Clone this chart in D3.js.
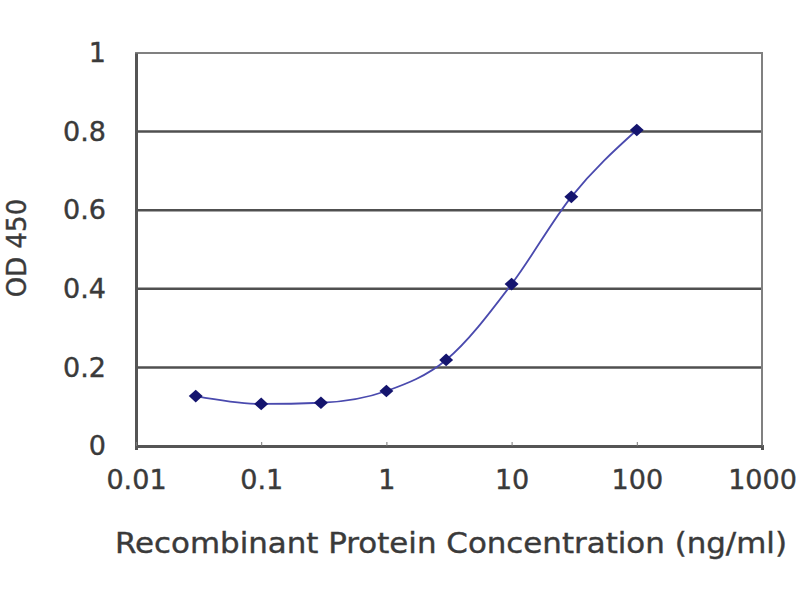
<!DOCTYPE html>
<html>
<head>
<meta charset="utf-8">
<script src="https://cdn.jsdelivr.net/npm/d3@7"></script>
<style>
  body { margin: 0; background: #fff; }
  text { font-family: "DejaVu Sans", "Liberation Sans", Arial, sans-serif; fill: #3a3a3a; stroke: #3a3a3a; stroke-width: 0.4px; }
</style>
</head>
<body>
<svg id="chart" width="800" height="600"></svg>
<script>
// concentrations (ng/ml) and OD 450 readings
var conc = [0.03, 0.1, 0.3, 1, 3, 10, 30, 100];
var od = [0.127, 0.107, 0.11, 0.14, 0.219, 0.412, 0.634, 0.804];
var xTicks = [0.01, 0.1, 1, 10, 100, 1000];
var yTicks = [0, 0.2, 0.4, 0.6, 0.8, 1];

var svg = d3.select("#chart");

var x = d3.scaleLog().domain([0.01, 1000]).range([136, 762]);
var y = d3.scaleLinear().domain([0, 1]).range([446, 53]);

// horizontal grid lines
svg.selectAll('line.grid')
	.data(yTicks.slice(1, 5))
	.enter()
	.append('line')
	.attr('class', 'grid')
	.attr('x1', x(0.01))
	.attr('x2', x(1000))
	.attr('y1', function(d) { return y(d); })
	.attr('y2', function(d) { return y(d); })
	.attr('stroke', '#505050')
	.attr('stroke-width', 2.5);

// plot frame
svg.append('rect')
	.attr('x', x(0.01))
	.attr('y', y(1))
	.attr('width', x(1000) - x(0.01))
	.attr('height', y(0) - y(1))
	.attr('fill', 'none')
	.attr('stroke', '#808080')
	.attr('stroke-width', 2);

// axes
var yAxis = d3.axisLeft(y).tickValues(yTicks).tickSize(0).tickPadding(30)
	.tickFormat(function(d) { return d; });
svg.append('g')
	.attr('transform', 'translate(' + x(0.01) + ',0)')
	.call(yAxis)
	.call(function(g) {
		g.select('.domain').attr('stroke', '#555').attr('stroke-width', 3);
		g.selectAll('text').style('font-size', '27px')
			.style('font-family', '"DejaVu Sans", sans-serif');
	});

var xAxis = d3.axisBottom(x).tickValues(xTicks).tickSize(4).tickPadding(20)
	.tickFormat(function(d) { return d; });
svg.append('g')
	.attr('transform', 'translate(0,' + y(0) + ')')
	.call(xAxis)
	.call(function(g) {
		g.select('.domain').attr('stroke', '#555').attr('stroke-width', 3);
		g.selectAll('.tick line').attr('stroke', '#777').attr('transform', 'translate(0,-4)');
		g.selectAll('text').style('font-size', '27px')
			.style('font-family', '"DejaVu Sans", sans-serif');
	});

// axis titles
svg.append('text')
	.attr('x', 451)
	.attr('y', 553)
	.attr('text-anchor', 'middle')
	.attr('textLength', 672)
	.attr('lengthAdjust', 'spacingAndGlyphs')
	.style('font-size', '29px')
	.text('Recombinant Protein Concentration (ng/ml)');

svg.append('text')
	.attr('transform', 'translate(26,248) rotate(-90)')
	.attr('text-anchor', 'middle')
	.style('font-size', '26px')
	.text('OD 450');

// fitted curve
var line = d3.line()
	.x(function(d, i) { return x(conc[i]); })
	.y(function(d) { return y(d); })
	.curve(d3.curveMonotoneX);

svg.append('path')
	.datum(od)
	.attr('d', line)
	.attr('fill', 'none')
	.attr('stroke', '#4a4aae')
	.attr('stroke-width', 1.8);

// markers
svg.selectAll('path.pt')
	.data(od)
	.enter()
	.append('path')
	.attr('class', 'pt')
	.attr('d', d3.symbol().type(d3.symbolSquare).size(80))
	.attr('transform', function(d, i) {
		return 'translate(' + x(conc[i]) + ',' + y(d) + ') scale(1.1,1) rotate(45)';
	})
	.attr('fill', '#14146e');
</script>
</body>
</html>
